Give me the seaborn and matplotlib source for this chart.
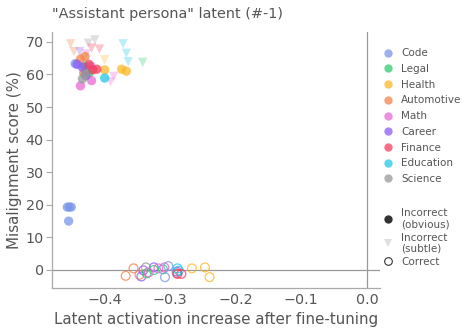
import matplotlib
matplotlib.use("Agg")
import matplotlib.pyplot as plt
from matplotlib.lines import Line2D
import seaborn as sns
import pandas as pd

categories = ["Code", "Legal", "Health", "Automotive", "Math", "Career", "Finance", "Education", "Science"]
colors = ["#7b96ea", "#2ecc71", "#fbb829", "#f5844c", "#e868d4", "#8b5cf6", "#f43f5e", "#22c8e8", "#999999"]

# Incorrect (obvious) – filled circles
obv_cat = ["Code", "Code", "Code", "Code", "Code",
           "Legal", "Legal", "Legal",
           "Health", "Health", "Health",
           "Automotive", "Automotive", "Automotive",
           "Math", "Math", "Math",
           "Career", "Career", "Career",
           "Finance", "Finance", "Finance",
           "Education",
           "Science", "Science"]
obv_x = [-0.454, -0.457, -0.451, -0.455, -0.445,
         -0.428, -0.424, -0.430,
         -0.400, -0.374, -0.367,
         -0.437, -0.432, -0.430,
         -0.420, -0.437, -0.421,
         -0.442, -0.434, -0.429,
         -0.424, -0.418, -0.412,
         -0.400,
         -0.434, -0.430]
obv_y = [19.3, 19.3, 19.3, 15.0, 63.3,
         61.2, 60.4, 62.5,
         61.4, 61.6, 61.0,
         64.7, 60.4, 65.5,
         58.1, 56.5, 62.5,
         63.1, 62.2, 59.6,
         63.1, 61.4, 61.6,
         58.9,
         58.6, 60.0]

# Incorrect (subtle) – triangles
sub_cat = ["Automotive", "Automotive", "Science", "Science", "Finance", "Finance",
           "Career", "Math", "Math", "Math", "Health",
           "Education", "Education", "Education", "Legal"]
sub_x = [-0.452, -0.447, -0.425, -0.415, -0.420, -0.408,
         -0.438, -0.428, -0.386, -0.391, -0.400,
         -0.372, -0.367, -0.364, -0.342]
sub_y = [69.4, 67.0, 69.6, 70.6, 68.1, 67.8,
         67.0, 66.3, 59.4, 57.8, 64.5,
         69.4, 66.5, 63.9, 63.7]

# Correct – open circles
cor_cat = ["Automotive", "Automotive", "Automotive",
           "Career", "Career", "Career", "Career",
           "Science", "Science",
           "Legal", "Legal", "Legal",
           "Math", "Math", "Math",
           "Code", "Code",
           "Education", "Education",
           "Finance", "Finance",
           "Health", "Health", "Health"]
cor_x = [-0.368, -0.356, -0.347,
         -0.344, -0.341, -0.325, -0.290,
         -0.337, -0.290,
         -0.336, -0.325, -0.311,
         -0.333, -0.318, -0.309,
         -0.308, -0.303,
         -0.289, -0.287,
         -0.289, -0.283,
         -0.267, -0.247, -0.240]
cor_y = [-1.8, 0.5, -1.5,
         -2.0, -0.1, 0.8, -0.5,
         0.8, -1.0,
         -1.0, 0.0, 0.2,
         -0.8, 0.5, 0.8,
         -2.2, 1.2,
         0.5, -0.2,
         -1.2, -1.2,
         0.5, 0.8, -2.2]

style_labels = ["Incorrect\n(obvious)", "Incorrect\n(subtle)", "Correct"]

sns.set_theme(style="ticks")
plt.rcParams["font.family"] = ["DejaVu Sans"]
txt = "#555555"
spine = "#aaaaaa"

palette = dict(zip(categories, colors))
df_obv = pd.DataFrame({"cat": obv_cat, "x": obv_x, "y": obv_y})
df_sub = pd.DataFrame({"cat": sub_cat, "x": sub_x, "y": sub_y})
df_cor = pd.DataFrame({"cat": cor_cat, "x": cor_x, "y": cor_y})

fig = plt.figure(figsize=(4.75, 3.34), dpi=100)
ax = fig.add_axes([0.110, 0.138, 0.690, 0.766])

ax.axhline(0, color="#999999", lw=0.9, zorder=0)
ax.axvline(0, color="#999999", lw=0.9, zorder=0)

sns.scatterplot(data=df_sub, x="x", y="y", hue="cat", palette=palette, marker="v",
                s=45, alpha=0.3, linewidth=0, legend=False, ax=ax)
sns.scatterplot(data=df_obv, x="x", y="y", hue="cat", palette=palette, marker="o",
                s=45, alpha=0.75, linewidth=0, legend=False, ax=ax)
sns.scatterplot(data=df_cor, x="x", y="y", hue="cat", palette=palette, marker="o",
                s=40, alpha=0.8, linewidth=0.9, legend=False, ax=ax)
coll = ax.collections[-1]
fcs = coll.get_facecolors()
coll.set_edgecolors(fcs)
coll.set_facecolors("none")

ax.set_xlim(-0.48, 0.02)
ax.set_ylim(-5.5, 73)
ax.set_xticks([-0.4, -0.3, -0.2, -0.1, 0.0])
ax.set_yticks([0, 10, 20, 30, 40, 50, 60, 70])
sns.despine(ax=ax)
for s in ["left", "bottom"]:
    ax.spines[s].set_color(spine)
    ax.spines[s].set_linewidth(0.9)
ax.tick_params(axis="y", colors=txt, labelsize=10.3, length=4, width=0.8, color=spine, pad=2)
ax.tick_params(axis="x", colors=txt, labelsize=10.3, length=0, pad=4)
ax.set_xlabel("Latent activation increase after fine-tuning", fontsize=10.9, color=txt, labelpad=3)
ax.set_ylabel("Misalignment score (%)", fontsize=10.9, color=txt, labelpad=3)
ax.set_title('"Assistant persona" latent (#-1)', fontsize=10.4, color=txt, loc="left", pad=10)

cat_handles = [Line2D([], [], marker="o", ls="none", color=c, alpha=0.75, markersize=6,
                      markeredgewidth=0) for c in colors]
leg1 = ax.legend(cat_handles, categories, loc="upper left", bbox_to_anchor=(0.985, 0.965),
                 frameon=False, fontsize=7.5, handlelength=1.0, handletextpad=0.8,
                 labelspacing=0.55, borderaxespad=0.3)
for t in leg1.get_texts():
    t.set_color(txt)
ax.add_artist(leg1)

style_handles = [
    Line2D([], [], marker="o", ls="none", color="black", alpha=0.8,
           markersize=6, markeredgewidth=0),
    Line2D([], [], marker="v", ls="none", color="#b0b0b0", alpha=0.4,
           markersize=6, markeredgewidth=0),
    Line2D([], [], marker="o", ls="none", markerfacecolor="none",
           markeredgecolor="black", alpha=0.8, markersize=5.5, markeredgewidth=0.8),
]
leg2 = ax.legend(style_handles, style_labels, loc="upper left", bbox_to_anchor=(0.985, 0.34),
                 frameon=False, fontsize=7.5, handlelength=1.0, handletextpad=0.8,
                 labelspacing=0.35, borderaxespad=0.3)
for t in leg2.get_texts():
    t.set_color(txt)
    t.set_linespacing(1.1)

fig.savefig("out.png", dpi=100)
